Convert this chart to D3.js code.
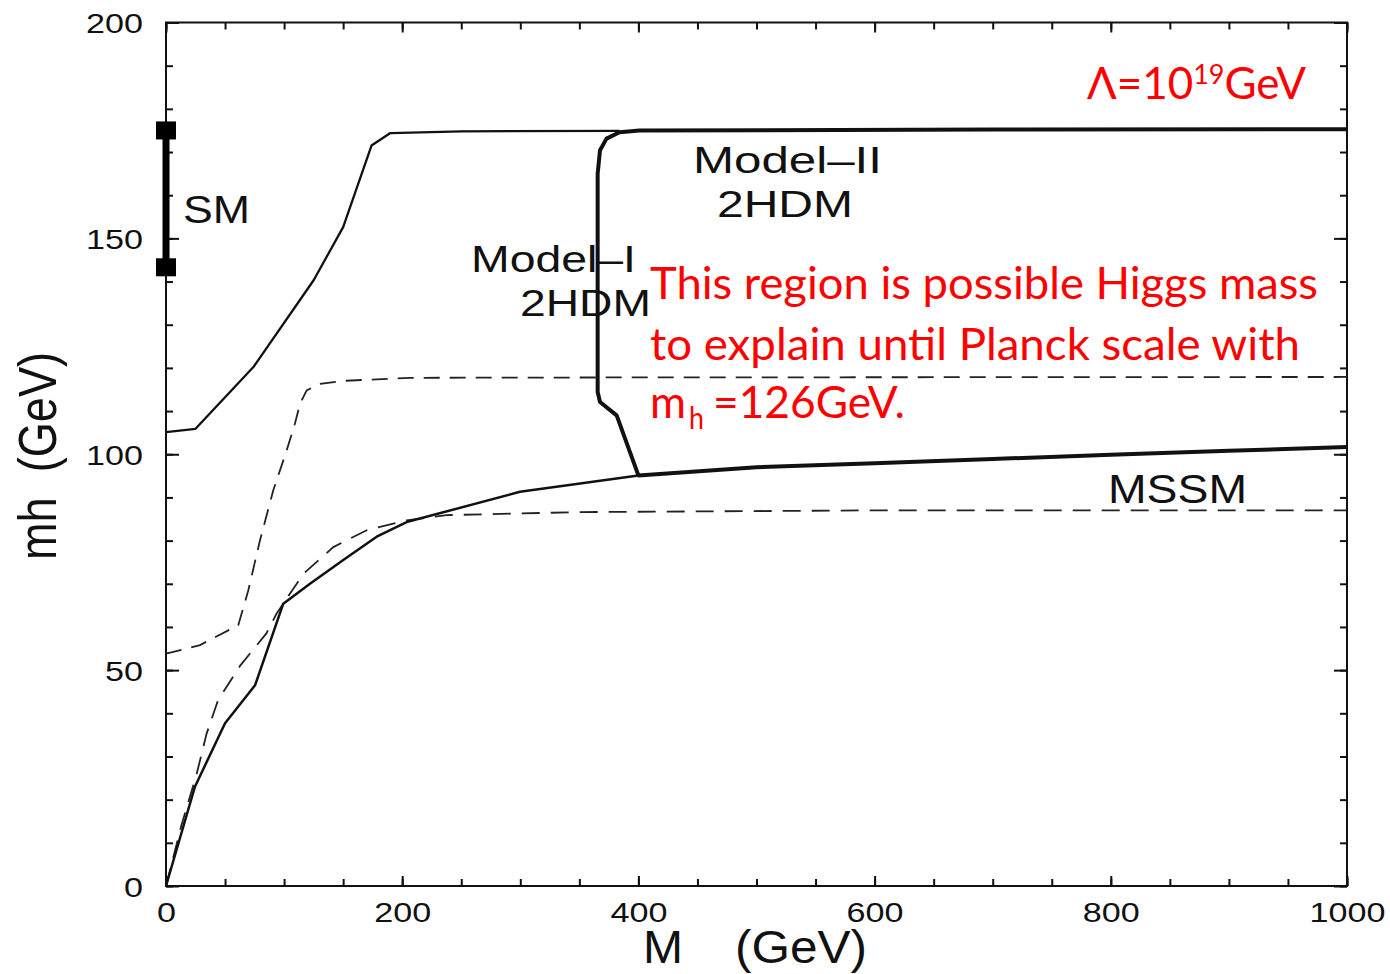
<!DOCTYPE html>
<html>
<head>
<meta charset="utf-8">
<script src="https://cdn.jsdelivr.net/npm/d3@7"></script>
<style>
  html,body{margin:0;padding:0;background:#fff;}
  svg{display:block;}
</style>
</head>
<body>
<svg id="chart" width="1390" height="974"></svg>
<script>
// ---------- data ----------
const xMajorTicks = [0, 200, 400, 600, 800, 1000];
const xMinorTicks = d3.range(0, 1001, 50);
const yMajorTicks = [0, 50, 100, 150, 200];
const yMinorTicks = d3.range(0, 201, 10);

// upper thin solid curve
const upperSolidM = [0, 25, 74, 125, 150, 174, 190, 250, 384];
const upperSolidH = [105.1, 105.9, 120.2, 140.3, 152.6, 171.5, 174.4, 174.8, 174.9];

// thick Model-II boundary (top, left wall, bottom)
const model2M = [1000, 700, 401, 384, 373, 367.5, 365.5, 365.5, 367.5, 381.6, 400, 500, 600, 700, 800, 900, 1000];
const model2H = [175.3, 175.2, 175.0, 174.6, 173.1, 170.4, 165, 114.4, 112.1, 109.0, 95.1, 97.0, 97.9, 98.9, 99.9, 100.8, 101.7];

// lower thin solid curve
const lowerSolidM = [0, 24.5, 50, 75.4, 99.3, 121.9, 150.1, 178.4, 203.8, 299.7, 400];
const lowerSolidH = [0, 23, 37.7, 46.5, 65.4, 70.0, 75.5, 80.9, 84.3, 91.3, 95.1];

// upper dashed curve
const upperDashM = [0, 28.8, 61.2, 69.7, 79.6, 90.9, 102.2, 109.2, 113.5, 119.1, 130.4, 150.1, 206.6, 400, 1000];
const upperDashH = [53.8, 55.8, 60.4, 68.5, 80.1, 91.7, 100.9, 107.1, 111.7, 114.8, 116.3, 117.0, 117.7, 117.8, 117.9];

// lower dashed curve (MSSM)
const lowerDashM = [0, 13, 26, 34.4, 44, 62.7, 85, 93.7, 116.3, 141.7, 169.9, 203.8, 237.7, 350, 600, 1000];
const lowerDashH = [0, 14, 26, 35.3, 43, 51, 58.5, 63.1, 72.3, 78.5, 82.4, 84.7, 85.9, 86.6, 87.0, 87.0];

// SM range
const smRange = [143.3, 175.0];

// ---------- chart ----------
const svg = d3.select("#chart");
const x = d3.scaleLinear().domain([0, 1000]).range([166, 1347]);
const y = d3.scaleLinear().domain([0, 200]).range([886, 22.5]);
const ink = "#111";
const blackFont = "'Liberation Sans', Arial, Helvetica, sans-serif";
const redFont = "Lato, 'Open Sans', sans-serif";

// frame
svg.append("rect")
  .attr("x", x(0)).attr("y", y(200))
  .attr("width", x(1000) - x(0)).attr("height", y(0) - y(200))
  .attr("fill", "none").attr("stroke", ink).attr("stroke-width", 2);

function styleAxis(g) {
  g.select(".domain").remove();
  g.selectAll(".tick line").attr("stroke", ink).attr("stroke-width", 2);
}

// minor ticks
svg.append("g").attr("transform", `translate(0,${y(0)})`)
  .call(d3.axisBottom(x).tickValues(xMinorTicks).tickSize(-7).tickFormat(""))
  .call(styleAxis);
svg.append("g").attr("transform", `translate(0,${y(200)})`)
  .call(d3.axisTop(x).tickValues(xMinorTicks).tickSize(-7).tickFormat(""))
  .call(styleAxis);
svg.append("g").attr("transform", `translate(${x(0)},0)`)
  .call(d3.axisLeft(y).tickValues(yMinorTicks).tickSize(-7).tickFormat(""))
  .call(styleAxis);
svg.append("g").attr("transform", `translate(${x(1000)},0)`)
  .call(d3.axisRight(y).tickValues(yMinorTicks).tickSize(-7).tickFormat(""))
  .call(styleAxis);

// major ticks with labels
const sx = 1.22;
const xAx = svg.append("g").attr("transform", `translate(0,${y(0)})`)
  .call(d3.axisBottom(x).tickValues(xMajorTicks).tickSize(-10).tickFormat(d3.format("d")))
  .call(styleAxis);
xAx.selectAll(".tick text")
  .attr("y", 36).attr("dy", 0)
  .attr("transform", `scale(${sx},1)`)
  .attr("font-family", blackFont).attr("font-size", 28).attr("fill", ink);

const yAx = svg.append("g").attr("transform", `translate(${x(0)},0)`)
  .call(d3.axisLeft(y).tickValues(yMajorTicks).tickSize(-13).tickFormat(d3.format("d")))
  .call(styleAxis);
yAx.selectAll(".tick text")
  .attr("x", -23 / sx).attr("dy", "0.36em")
  .attr("transform", `scale(${sx},1)`)
  .attr("font-family", blackFont).attr("font-size", 28).attr("fill", ink);

svg.append("g").attr("transform", `translate(0,${y(200)})`)
  .call(d3.axisTop(x).tickValues(xMajorTicks).tickSize(-10).tickFormat(""))
  .call(styleAxis);
svg.append("g").attr("transform", `translate(${x(1000)},0)`)
  .call(d3.axisRight(y).tickValues(yMajorTicks).tickSize(-13).tickFormat(""))
  .call(styleAxis);

// curves
const line = d3.line().x(d => x(d[0])).y(d => y(d[1]));
const zip = (a, b) => a.map((v, i) => [v, b[i]]);

svg.append("path").datum(zip(upperDashM, upperDashH))
  .attr("d", line).attr("fill", "none").attr("stroke", "#222")
  .attr("stroke-width", 1.8).attr("stroke-dasharray", "16,10");
svg.append("path").datum(zip(lowerDashM, lowerDashH))
  .attr("d", line).attr("fill", "none").attr("stroke", "#222")
  .attr("stroke-width", 1.8).attr("stroke-dasharray", "18,11");
svg.append("path").datum(zip(upperSolidM, upperSolidH))
  .attr("d", line).attr("fill", "none").attr("stroke", ink)
  .attr("stroke-width", 2.3).attr("stroke-linejoin", "round");
svg.append("path").datum(zip(lowerSolidM, lowerSolidH))
  .attr("d", line).attr("fill", "none").attr("stroke", ink)
  .attr("stroke-width", 2.5).attr("stroke-linejoin", "round");
svg.append("path").datum(zip(model2M, model2H))
  .attr("d", line).attr("fill", "none").attr("stroke", ink)
  .attr("stroke-width", 4).attr("stroke-linejoin", "round");

// SM bar
svg.append("line")
  .attr("x1", x(0)).attr("x2", x(0))
  .attr("y1", y(smRange[0])).attr("y2", y(smRange[1]))
  .attr("stroke", "#000").attr("stroke-width", 7);
svg.selectAll("rect.sm").data(smRange).enter().append("rect")
  .attr("class", "sm")
  .attr("x", x(0) - 10).attr("y", d => y(d) - 9)
  .attr("width", 20).attr("height", 18).attr("fill", "#000");

// text helper
function label(txt, px, py, size, width, fam, fill) {
  const t = svg.append("text")
    .attr("x", px).attr("y", py)
    .attr("font-family", fam).attr("font-size", size).attr("fill", fill)
    .text(txt);
  if (width) t.attr("textLength", width).attr("lengthAdjust", "spacingAndGlyphs");
  return t;
}

// black labels
label("SM", 183, 223, 39, 67, blackFont, ink);
label("Model–II", 693, 173, 37, 189, blackFont, ink);
label("2HDM", 717, 217, 37, 136, blackFont, ink);
label("Model–I", 471, 272, 37, 165, blackFont, ink);
label("2HDM", 520, 316, 37, 131, blackFont, ink);
label("MSSM", 1108, 503, 41, 139, blackFont, ink);

// axis titles
label("M", 643, 963, 46, 40, blackFont, ink);
label("(GeV)", 735, 963, 46, 132, blackFont, ink);
svg.append("text")
  .attr("transform", "translate(56,456) scale(1.2,1) rotate(-90)")
  .attr("text-anchor", "middle")
  .style("white-space", "pre")
  .attr("font-family", blackFont).attr("font-size", 45).attr("fill", ink)
  .attr("textLength", 208).attr("lengthAdjust", "spacingAndGlyphs")
  .text("mh  (GeV)");

// red annotations
const red = "#ff0000";
const lam = svg.append("text")
  .attr("x", 1087).attr("y", 99)
  .attr("font-family", redFont).attr("font-size", 44).attr("fill", red)
  .attr("textLength", 219).attr("lengthAdjust", "spacingAndGlyphs");
lam.append("tspan").text("Λ=10");
lam.append("tspan").attr("font-size", 27).attr("dy", -15).text("19");
lam.append("tspan").attr("dy", 15).text("GeV");

label("This region is possible Higgs mass", 650, 299, 44, 668, redFont, red);
label("to explain until Planck scale with", 650, 360, 44, 650, redFont, red);
label("m", 650, 418, 44, 36, redFont, red);
label("h", 689, 429, 30, 15, redFont, red);
label("=126GeV.", 713, 418, 44, 192, redFont, red);
</script>
</body>
</html>
